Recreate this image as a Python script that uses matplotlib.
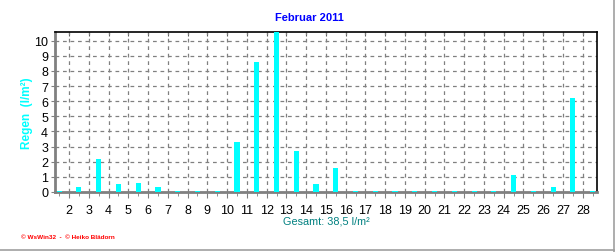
import matplotlib
matplotlib.use("Agg")
import matplotlib.pyplot as plt
from matplotlib.lines import Line2D

plt.rcParams['font.family'] = ['Liberation Sans', 'DejaVu Sans']

# Regen je Tag, Februar 2011 (l/m²)
days = list(range(1, 29))
rain = [0.0, 0.3, 2.2, 0.5, 0.6, 0.3, 0.0, 0.0, 0.0, 3.3,
        8.6, 10.6, 2.7, 0.5, 1.6, 0.0, 0.0, 0.0, 0.0, 0.0,
        0.0, 0.0, 0.0, 1.1, 0.0, 0.3, 6.2, 0.0]
xlabels = [str(d) for d in range(2, 29)]
title = "Februar 2011"
total_text = "Gesamt: 38,5 l/m²"

fig = plt.figure(figsize=(6.16, 2.53), dpi=100)
fig.patch.set_facecolor('white')

# grey frame at right / bottom of image
fig.add_artist(Line2D([613.5 / 616, 613.5 / 616], [0, 1], transform=fig.transFigure,
                      color='#a0a0a0', lw=1.2))
fig.add_artist(Line2D([0, 614 / 616], [2.5 / 253, 2.5 / 253], transform=fig.transFigure,
                      color='#a0a0a0', lw=1.2))

ax = fig.add_axes([55 / 616, 60 / 253, 542 / 616, 160 / 253])

# zero days are drawn as a tiny stub
heights = [max(v, 0.08) for v in rain]
ax.bar([d + 0.5 for d in days], heights, width=0.26, color='#00ffff', zorder=3)

ax.set_xlim(1.29, 28.72)
ax.set_ylim(0, 10.57)
ax.set_xticks(range(2, 29))
ax.set_xticklabels(xlabels)
ax.set_xticks([d + 0.5 for d in range(1, 29)], minor=True)
ax.set_yticks(range(0, 11))
ax.grid(True, color='#808080', linestyle=(0, (3, 3)), lw=0.9, zorder=0)

for side in ['left', 'bottom']:
    ax.spines[side].set_color('#808080')
    ax.spines[side].set_linewidth(2)
for side in ['top', 'right']:
    ax.spines[side].set_color('black')
    ax.spines[side].set_linewidth(1.2)

ax.tick_params(axis='x', which='major', length=4, color='#808080', labelsize=9, pad=5)
ax.tick_params(axis='x', which='minor', length=3, color='#808080')
ax.tick_params(axis='y', which='major', length=3, color='#808080', labelsize=9, pad=2)

# short ticks hanging down from the top edge
top = ax.secondary_xaxis('top')
top.set_xticks(range(2, 29))
top.tick_params(direction='in', length=3, color='#606060', labeltop=False)
top.spines['top'].set_visible(False)

fig.text(309 / 616, 1 - 18 / 253, title, color='#0000ff', fontsize=8,
         fontweight='bold', ha='center', va='center')
fig.text(27 / 616, 1 - 113 / 253, "Regen  (l/m²)", color='#00ffff', fontsize=8.5,
         fontweight='bold', rotation=90, ha='center', va='center')
fig.text(326 / 616, 1 - 222 / 253, total_text, color='#008080', fontsize=7.8,
         ha='center', va='center')
fig.text(21 / 616, 1 - 238 / 253, "© WsWin32  -  © Heiko Blädorn", color='#ff0000',
         fontsize=4.6, fontweight='bold', ha='left', va='center')

fig.savefig("out.png", dpi=100)
